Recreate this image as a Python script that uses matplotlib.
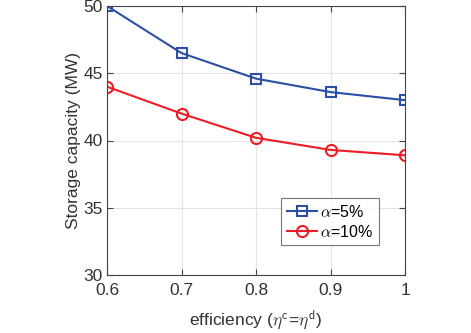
import numpy as np
import matplotlib.pyplot as plt

plt.rcParams['font.family'] = ['Liberation Sans', 'DejaVu Sans']
plt.rcParams['mathtext.fontset'] = 'cm'

efficiency = [0.6, 0.7, 0.8, 0.9, 1.0]
cap_5 = [50.0, 46.5, 44.6, 43.6, 43.0]
cap_10 = [44.0, 42.0, 40.2, 39.3, 38.9]

fig = plt.figure(figsize=(4.71, 3.33), dpi=100)
ax = fig.add_axes([107 / 471, 1 - 275 / 333, 298 / 471, 269 / 333])

ax.plot(efficiency, cap_5, '-s', color='#2b4fa6', lw=1.5, ms=7,
        mfc='none', mew=1.5, label=r'$\alpha$=5%')
ax.plot(efficiency, cap_10, '-o', color='#ee1c25', lw=1.5, ms=8,
        mfc='none', mew=1.5, label=r'$\alpha$=10%')

ax.set_xlim(0.6, 1.0)
ax.set_ylim(30, 50)
ax.set_xticks([0.6, 0.7, 0.8, 0.9, 1.0])
ax.set_xticklabels(['0.6', '0.7', '0.8', '0.9', '1'])
ax.set_yticks([30, 35, 40, 45, 50])
ax.grid(True, color='#e3e3e3', lw=0.8)
ax.set_axisbelow(True)

for s in ax.spines.values():
    s.set_color('#444444')
    s.set_linewidth(0.8)
ax.tick_params(direction='in', top=True, right=True, length=4,
               color='#444444', labelcolor='#333333', labelsize=12.5, pad=3)
ax.tick_params(axis='x', pad=6)

ax.set_xlabel(r'efficiency ($\eta^{\mathsf{c}}$=$\eta^{\mathsf{d}}$)',
              fontsize=12.5, color='#333333', labelpad=7)
ax.set_ylabel('Storage capacity (MW)', fontsize=12.5, color='#333333', labelpad=2)

leg = ax.legend(loc='upper left', bbox_to_anchor=(174 / 298, 1 - 192 / 269),
                fontsize=11.5, frameon=True, fancybox=False, handlelength=1.9,
                handletextpad=0.2, borderpad=0.35, labelspacing=0.25,
                borderaxespad=0)
leg.get_frame().set_edgecolor('#555555')
leg.get_frame().set_linewidth(0.8)

fig.savefig('out.png', dpi=100)
